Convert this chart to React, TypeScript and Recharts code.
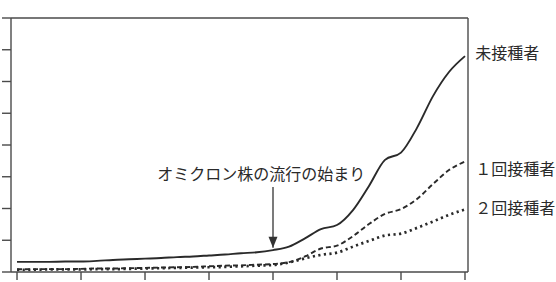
import React from 'react';
import { LineChart, Line, XAxis, YAxis, ReferenceLine, ReferenceDot } from 'recharts';

// x positions (period index, 0..7 at quarter steps)
const xIndex = [0, 0.25, 0.5, 0.75, 1, 1.25, 1.5, 1.75, 2, 2.25, 2.5, 2.75, 3, 3.25, 3.5, 3.75, 4, 4.25, 4.5, 4.75, 5, 5.25, 5.5, 5.75, 6, 6.25, 6.5, 6.75, 7];

// 未接種者 (solid)
const unvaccinated = [0.32, 0.32, 0.32, 0.33, 0.33, 0.35, 0.38, 0.40, 0.42, 0.44, 0.47, 0.49, 0.52, 0.55, 0.59, 0.62, 0.69, 0.80, 1.06, 1.35, 1.48, 1.95, 2.71, 3.53, 3.76, 4.54, 5.54, 6.30, 6.80];
// 1回接種者 (dashed)
const oneDose = [0.085, 0.09, 0.09, 0.09, 0.10, 0.11, 0.11, 0.12, 0.13, 0.14, 0.15, 0.16, 0.18, 0.20, 0.21, 0.23, 0.25, 0.31, 0.49, 0.74, 0.83, 1.13, 1.51, 1.83, 1.98, 2.30, 2.77, 3.21, 3.48];
// 2回接種者 (dotted)
const twoDose = [0.07, 0.07, 0.08, 0.08, 0.08, 0.09, 0.09, 0.10, 0.11, 0.12, 0.13, 0.14, 0.15, 0.16, 0.18, 0.20, 0.22, 0.30, 0.43, 0.54, 0.61, 0.80, 0.98, 1.15, 1.21, 1.39, 1.59, 1.80, 1.97];

const xTicks = [0, 1, 2, 3, 4, 5, 6, 7];
const yTicks = [0, 1, 2, 3, 4, 5, 6, 7, 8];
const xDomain = [-0.094, 7.047];
const yDomain = [0, 8];

const seriesNames = ['未接種者', '１回接種者', '２回接種者'];
const seriesLabelX = [7.16, 7.16, 7.16];
const seriesLabelY = [6.93, 3.28, 2.05];

const annotationText = 'オミクロン株の流行の始まり';
const annotationTextX = 2.19;
const annotationTextY = 3.12;
const arrowX = 4;
const arrowTopY = 2.68;
const arrowTipY = 0.76;

const data = xIndex.map((x, i) => ({ x, u: unvaccinated[i], d1: oneDose[i], d2: twoDose[i] }));

const FONT = '"Noto Sans CJK JP", "Noto Sans", sans-serif';
const AX = '#4a4a4a';

const textShape = (txt: string, anchor: string) => (p: any) => (
  <text x={p.cx} y={p.cy} textAnchor={anchor} dominantBaseline="central" fontFamily={FONT} fontSize={16} fill="#2a2a2a">
    {txt}
  </text>
);

const arrowHead = (p: any) => (
  <path d={`M ${p.cx - 4.5} ${p.cy - 11} L ${p.cx + 4.5} ${p.cy - 11} L ${p.cx} ${p.cy} Z`} fill="#333" />
);

export default function App() {
  return (
    <div style={{ position: 'absolute', left: 0, top: 0, width: 556, height: 282, background: '#fff' }}>
      <LineChart width={556} height={282} data={data} margin={{ top: 18, right: 88, bottom: 0, left: 0 }}>
        <XAxis
          dataKey="x"
          type="number"
          domain={xDomain}
          ticks={xTicks}
          allowDataOverflow
          height={10}
          tickSize={8}
          tick={() => <g />}
          axisLine={{ stroke: AX, strokeWidth: 1.4 }}
          tickLine={{ stroke: AX, strokeWidth: 1.4 }}
        />
        <YAxis
          type="number"
          domain={yDomain}
          ticks={yTicks}
          allowDataOverflow
          width={11}
          tickSize={9}
          tick={() => <g />}
          axisLine={{ stroke: AX, strokeWidth: 1.4 }}
          tickLine={{ stroke: AX, strokeWidth: 1.4 }}
        />
        <ReferenceLine y={yDomain[1]} stroke={AX} strokeWidth={1.4} ifOverflow="visible" />
        <ReferenceLine x={xDomain[1]} stroke={AX} strokeWidth={1.4} ifOverflow="visible" />
        <Line dataKey="d2" type="monotone" stroke="#2a2a2a" strokeWidth={2.7} strokeDasharray="2.2 3.4" dot={false} isAnimationActive={false} />
        <Line dataKey="d1" type="monotone" stroke="#2a2a2a" strokeWidth={1.9} strokeDasharray="5 3" dot={false} isAnimationActive={false} />
        <Line dataKey="u" type="monotone" stroke="#2a2a2a" strokeWidth={1.9} dot={false} isAnimationActive={false} />
        <ReferenceLine
          segment={[{ x: arrowX, y: arrowTopY }, { x: arrowX, y: arrowTipY }]}
          stroke="#333"
          strokeWidth={1.3}
          ifOverflow="visible"
        />
        <ReferenceDot x={arrowX} y={arrowTipY} r={0} shape={arrowHead} ifOverflow="visible" />
        <ReferenceDot x={annotationTextX} y={annotationTextY} r={0} shape={textShape(annotationText, 'start')} ifOverflow="visible" />
        {seriesNames.map((n, i) => (
          <ReferenceDot key={n} x={seriesLabelX[i]} y={seriesLabelY[i]} r={0} shape={textShape(n, 'start')} ifOverflow="visible" />
        ))}
      </LineChart>
    </div>
  );
}
